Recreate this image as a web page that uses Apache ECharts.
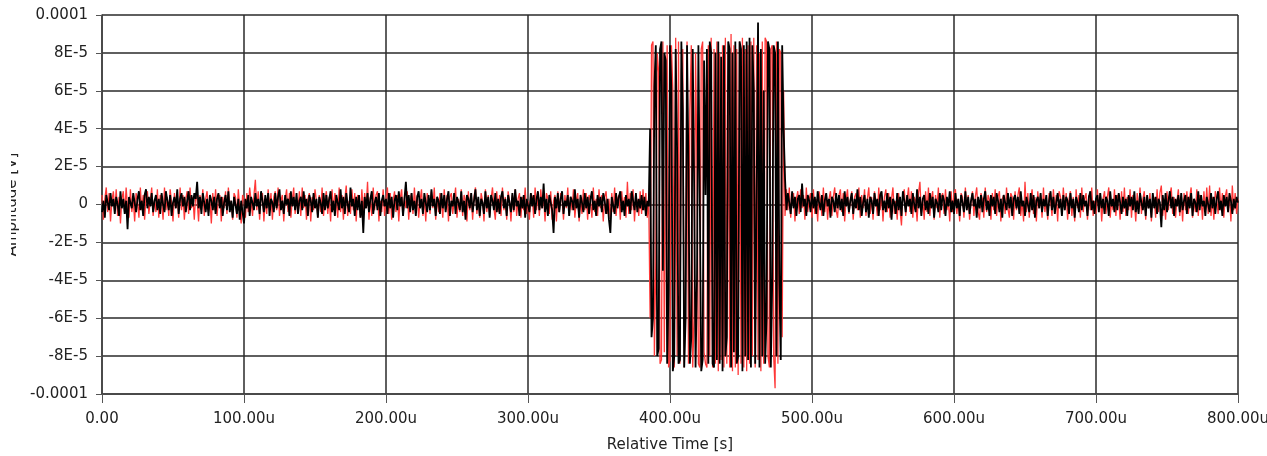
<!DOCTYPE html>
<html>
<head>
<meta charset="utf-8">
<title>Amplitude vs Relative Time</title>
<script src="https://cdn.jsdelivr.net/npm/echarts@6/dist/echarts.min.js"></script>
<style>
  html, body { margin: 0; padding: 0; background: #fff; }
  #chart { width: 1267px; height: 456px; }
</style>
</head>
<body>
<div id="chart"></div>
<script>
// one sample per us, values in uV
const sampleStepUs = 1
const timeMaxUs = 800

const blackUV = [
  -4, 2, -7, 5, 1, -3, 6, -1, 3, -5, 4, 0, -6, 7, -2, 3, -5, 2, -13, 4,
  5, -2, 6, 1, -4, 3, 7, -3, 2, -6, 5, 8, -2, 4, -1, 6, -4, 2, 5, -3,
  3, -5, 6, 0, -4, 7, 2, -3, 5, -6, 1, 4, -2, 8, -5, 3, 6, -1, 4, -4,
  2, 7, -3, 5, -1, 6, 3, 12, -2, 4, -5, 6, 1, -4, 3, -6, 5, 2, -3, 4,
  -5, 3, 6, -2, 4, -6, 1, 5, -3, 7, -4, 2, -7, 4, 0, -5, 3, -8, 2, -4,
  -10, 3, -2, 5, -6, 4, 1, -3, 6, -1, 3, -5, 7, 2, -4, 5, -2, 6, -6, 3,
  1, -4, 6, -2, 4, 8, -3, 2, -5, 5, 0, 3, -6, 7, -1, 4, -3, 6, -5, 2,
  4, -3, 7, -1, 3, -6, 5, 2, -4, 6, -2, 3, -7, 4, 1, -5, 6, -3, 5, -2,
  3, 7, -4, 2, -6, 5, 1, -3, 8, -2, 4, -5, 6, 0, -4, 9, -1, 3, -6, 4,
  -3, 5, -7, 2, -15, 4, -2, 6, -4, 3, 7, -5, 1, 4, -3, 6, -6, 2, 5, -1,
  3, -5, 6, -2, 4, -7, 2, 5, -3, 7, -1, 4, -6, 3, 12, -2, 5, -4, 6, -3,
  2, -6, 4, 7, -2, 3, -5, 6, 1, -4, 5, -3, 8, -1, 3, -6, 4, 2, -5, 6,
  -2, 5, -4, 3, 7, -6, 2, -1, 6, -5, 4, 1, -3, 7, -4, 2, -8, 5, 3, -2,
  6, -4, 2, 8, -3, 4, -6, 3, 1, -5, 7, -2, 4, -7, 5, 2, -3, 6, -4, 3,
  -5, 4, 7, -2, 3, -6, 5, 1, -4, 6, -3, 8, -1, 2, -6, 4, -2, 5, -7, 3,
  2, -4, 6, -1, 5, -5, 3, 7, -3, 4, -2, 11, -4, 3, -6, 5, 1, -3, -15, 4,
  -2, 6, -4, 3, 7, -5, 2, -1, 5, -6, 4, 2, -3, 8, -2, 3, -7, 5, 1, -4,
  6, -2, 4, -5, 3, 7, -3, 2, -6, 5, -1, 4, -4, 6, 2, -5, 3, -8, -15, 4,
  3, -5, 6, -2, 4, 7, -4, 2, -6, 5, -1, 3, -5, 7, 2, -3, 6, -4, 3, -2,
  5, -3, 4, -6, 2, -1,
  // burst 386..480 us
  40, -70, -60, 62, 84, -80, -76, 82, 86, -35,
  80, 76, -84, -45, 84, 60, -88, -80, 82, 30,
  -84, -82, 86, 50, -86, -60, 84, 20, -84, -70,
  82, 10, -86, -40, 84, 0, -88, -82, 76, 5,
  82, -84, 86, 80, -84, -86, 80, -82, 86, -84,
  78, -88, 84, -80, -70, 86, 82, -86, 80, -78,
  86, -84, -80, 86, 82, -88, 84, -80, 86, -82,
  88, -86, 84, 60, -84, -84, 96, -86, 82, -80,
  60, -84, -60, 86, 82, -86, -40, 84, 80, -80,
  86, -40, -82, 84, 40,
  // 481..800 us
  14, -3, 6, 1, -5, 7, -2, 4, -6, 3, 5, -4, 11, -1, 3, -6, 5, 2, -4, 6,
  -2, 4, -5, 7, 1, -3, 5, -6, 2, 6, -1, 3, -7, 4, 2, -4, 6, -2, 5, -3,
  3, -6, 7, -1, 4, -4, 2, 6, -5, 3, -2, 8, -3, 4, -6, 1, 5, -4, 3, -7,
  4, 2, -5, 6, -1, 3, -6, 5, 7, -3, 2, -4, 6, -2, 4, -8, 3, 1, -5, 6,
  -3, 4, -6, 7, 2, -4, 5, -1, 3, -5, 6, 0, -4, 8, -2, 4, -6, 3, 5, -3,
  2, -5, 6, -2, 4, -7, 3, 1, -4, 6, -3, 5, 2, -6, 4, -1, 7, -4, 2, -5,
  6, -2, 3, -6, 5, 1, -4, 7, -3, 4, -5, 2, 6, -1, 3, -7, 4, -2, 5, -4,
  3, 7, -3, 2, -6, 5, -1, 4, -5, 6, 2, -4, 3, -7, 5, 1, -3, 6, -2, 4,
  -6, 3, 5, -2, 4, -5, 7, -1, 2, -6, 4, 3, -4, 6, -3, 5, -7, 2, 4, -2,
  6, -4, 3, -1, 5, -6, 2, 7, -3, 4, -5, 1, 6, -2, 3, -6, 5, -3, 4, 2,
  -5, 6, -2, 3, -7, 4, 1, -4, 6, -3, 5, -1, 2, -6, 4, 7, -3, 2, -5, 3,
  5, -4, 6, -2, 3, -5, 4, 2, -6, 7, -1, 3, -4, 5, -3, 6, 1, -5, 4, -2,
  3, -6, 5, -1, 4, -3, 7, -4, 2, -5, 6, 1, -3, 4, -6, 5, -2, 3, -7, 6,
  -2, 4, -5, 3, 1, -12, 5, -3, 6, -4, 2, 7, -2, 4, -6, 3, -1, 5, -4, 6,
  -3, 2, 5, -5, 4, -2, 6, -6, 3, 1, -4, 7, -3, 5, -1, 2, -6, 4, 3, -4,
  6, -2, 4, -5, 3, 7, -3, 2, -6, 5, -1, 4, -4, 6, 2, -5, 3, -2, 4, 1
]

const redUV = [
  5, -8, 3, 9, -4, 6, -9, 2, 7, -3, 8, -6, 4, -10, 3, 7, -5, 9, -2, -7,
  8, -4, 3, -9, 6, 2, -7, 9, -3, 5, -8, 4, 7, -5, 2, 9, -6, 3, -4, 8,
  -7, 5, 2, -8, 9, -3, 4, -6, 8, 1, -9, 6, -2, 4, -7, 9, -3, 5, -8, 3,
  7, -5, 9, -2, 4, -8, 6, 2, -9, 5, -3, 8, -6, 3, 7, -4, 2, -10, 6, -3,
  8, -6, 3, 5, -9, 4, -2, 7, -5, 9, -3, 2, -8, 6, 4, -7, 8, -2, -10, 5,
  3, -7, 6, -4, 9, 2, -6, 5, 13, -3, 7, -8, 4, 6, -9, 3, -5, 8, -2, 6,
  -8, 4, 7, -3, 9, -6, 2, 5, -9, 3, 8, -4, 6, -7, 2, 9, -5, 4, -3, 7,
  -6, 9, -2, 5, -8, 3, 6, -9, 4, -3, 8, 2, -7, 5, -4, 9, -6, 3, 7, -5,
  4, -9, 8, -3, 6, 2, -7, 9, -4, 5, -8, 3, 10, -6, 2, -5, 8, -3, 6, -9,
  5, 3, -7, 8, -4, 6, -2, 12, -8, 4, -6, 9, -3, 5, 7, -9, 2, -4, 8, -6,
  3, 9, -5, 6, -8, 2, 7, -4, 5, -9, 3, 8, -6, 4, -2, 7, -8, 3, 6, -5,
  9, -3, 5, -7, 2, 8, -6, 4, -9, 6, 3, -5, 7, -2, 9, -8, 4, -4, 6, 2,
  -7, 8, -3, 5, -9, 4, 6, -5, 2, 9, -7, 3, -4, 8, -6, 5, 2, -9, 7, -3,
  6, -8, 4, 9, -5, 3, -7, 6, 2, -9, 8, -4, 5, -6, 3, 9, -2, -8, 7, -4,
  5, -6, 9, -3, 4, -8, 7, 2, -9, 5, -4, 8, -6, 3, 6, -7, 4, -3, 9, -5,
  2, -8, 6, 4, -7, 9, -3, 5, -6, 8, -2, 4, -9, 6, 3, -5, 7, -8, 2, 5,
  -9, 7, -4, 6, 3, -8, 5, -2, 9, -6, 4, -3, 8, -7, 2, 6, -9, 4, -5, 8,
  -3, 6, -8, 5, 2, -7, 9, -4, 3, -6, 8, -2, 5, -9, 4, 7, -5, 3, -8, 6,
  -4, 9, -6, 3, 5, -8, 7, -2, 4, -7, 12, -5, 6, -3, 8, -9, 4, 2, -6, 7,
  -5, 8, -3, 6, -7, 4,
  // burst 386..480 us
  -60, 84, 86, -80, -30, 80, 70, -84, -82, 86,
  -78, 40, 84, -86, -82, 84, 60, -86, 88, -80,
  86, -84, 70, 82, -86, -40, 86, -84, 50, 84,
  -86, -60, 80, 20, -84, -86, 82, 86, -78, -84,
  -86, 84, -80, 88, -86, 82, -84, 86, -88, 80,
  -82, 84, -86, 88, -84, 80, -86, 90, -88, 84,
  -86, 82, -90, 86, -84, 88, -86, 82, -88, 84,
  -84, 86, -80, 88, -86, 84, -82, 80, -88, 86,
  -84, 88, 86, -80, -86, 82, 84, -80, -97, 86,
  -84, 82, 80, -70, 60,
  // 481..800 us
  -6, 8, -3, 9, -7, 4, 6, -9, 3, 7, -5, 8, -2, 5, -8, 9, -4, 3, 6, -7,
  8, -5, 3, -9, 7, 2, -6, 9, -4, 5, -8, 3, 7, -6, 4, 9, -3, -7, 5, 8,
  -4, 6, -9, 3, 8, -5, 2, 7, -8, 4, 6, -3, 9, -7, 5, -2, 8, -6, 3, 9,
  -5, 4, -8, 7, 2, -6, 9, -3, 5, -9, 4, 8, -4, 6, -7, 3, 9, -5, 2, -8,
  6, -3, -11, 5, 8, -6, 3, 9, -4, 7, -7, 4, 2, -9, 6, 12, -5, 3, -8, 7,
  -4, 9, -6, 3, 7, -8, 5, -2, 9, -7, 4, 6, -5, 8, -3, 2, -9, 7, -4, 6,
  8, -5, 3, -9, 6, 4, -7, 9, -3, 5, -8, 2, 7, -6, 4, 9, -4, -8, 6, 3,
  -7, 9, -4, 5, 2, -8, 6, -3, 8, -6, 4, 7, -9, 3, 5, -5, 9, -2, -7, 6,
  4, -8, 7, -3, 5, 9, -6, 2, -9, 12, -4, 6, -7, 3, 8, -5, 4, -9, 7, -2,
  5, -7, 9, -4, 3, -8, 6, 2, -6, 8, -3, 5, -9, 7, 4, -5, 9, -3, 6, -8,
  3, 7, -6, 4, -9, 8, -2, 5, -7, 9, -4, 3, 6, -8, 5, -3, 9, -6, 2, -5,
  8, -4, 6, -9, 3, 7, -5, 4, 9, -7, 2, -3, 8, -6, 5, 3, -8, 7, -4, 9,
  -6, 4, -3, 8, -7, 5, 2, -9, 6, -4, 9, -5, 3, 7, -8, 4, -2, 6, -9, 5,
  3, -7, 8, -4, 6, 10, -6, 3, -8, 7, -3, 5, 9, -5, 4, -7, 2, 8, -6, 4,
  -9, 6, -3, 7, -5, 4, 9, -7, 2, -4, 8, -6, 5, 3, -8, 7, -4, 9, -5, 10,
  -6, 4, -8, 7, 3, -5, 9, -3, 6, -7, 4, 8, -4, 5, -9, 10, -3, 6, -5, 3
]

function toPoints(values) {
  return values.map((v, i) => [i * sampleStepUs, v])
}

// y labels the way the instrument prints them
function yLabel(v) {
  if (v === 0) return '0'
  if (v === 100) return '0.0001'
  if (v === -100) return '-0.0001'
  return (v / 10) + 'E-5'
}

function xLabel(v) {
  if (v === 0) return '0.00'
  return v.toFixed(2) + 'u'
}

const chart = echarts.init(document.getElementById('chart'), null, { renderer: 'canvas' })
const font = 'DejaVu Sans'
const gridColor = '#2a2a2a'

chart.setOption({
  animation: false,
  backgroundColor: '#fff',
  grid: { left: 102, right: 29, top: 15, bottom: 62, outerBoundsMode: 'none' },
  // the panel edge cuts off the top of the y name
  graphic: [{
    type: 'rect',
    left: 0,
    top: 130,
    shape: { width: 11, height: 150 },
    style: { fill: '#fff' },
    z: 100
  }],
  xAxis: {
    type: 'value',
    min: 0,
    max: timeMaxUs,
    interval: 100,
    name: 'Relative Time [s]',
    nameLocation: 'middle',
    nameGap: 44,
    nameTextStyle: { fontFamily: font, fontSize: 15, color: '#222' },
    axisLine: { show: true, onZero: false, lineStyle: { color: '#444', width: 1.5 } },
    axisTick: { show: true, length: 9, lineStyle: { color: '#555' } },
    axisLabel: { formatter: xLabel, fontFamily: font, fontSize: 15, color: '#222', margin: 18 },
    splitLine: { show: true, lineStyle: { color: gridColor, width: 1.5 } }
  },
  yAxis: {
    type: 'value',
    min: -100,
    max: 100,
    interval: 20,
    name: 'Amplitude [V]',
    nameLocation: 'middle',
    nameGap: 75,
    nameTextStyle: { fontFamily: font, fontSize: 15, color: '#222' },
    axisLine: { show: true, lineStyle: { color: '#444', width: 1.5 } },
    axisTick: { show: true, length: 6, lineStyle: { color: '#555' } },
    axisLabel: { formatter: yLabel, fontFamily: font, fontSize: 15, color: '#222', margin: 14 },
    splitLine: { show: true, lineStyle: { color: gridColor, width: 1.5 } }
  },
  series: [{
    name: 'red',
    type: 'line',
    data: toPoints(redUV),
    showSymbol: false,
    sampling: 'none',
    lineStyle: { color: '#ff3838', width: 1.3 },
    z: 2
  }, {
    name: 'black',
    type: 'line',
    data: toPoints(blackUV),
    showSymbol: false,
    sampling: 'none',
    lineStyle: { color: '#000', width: 1.8 },
    z: 3
  }]
})
</script>
</body>
</html>
